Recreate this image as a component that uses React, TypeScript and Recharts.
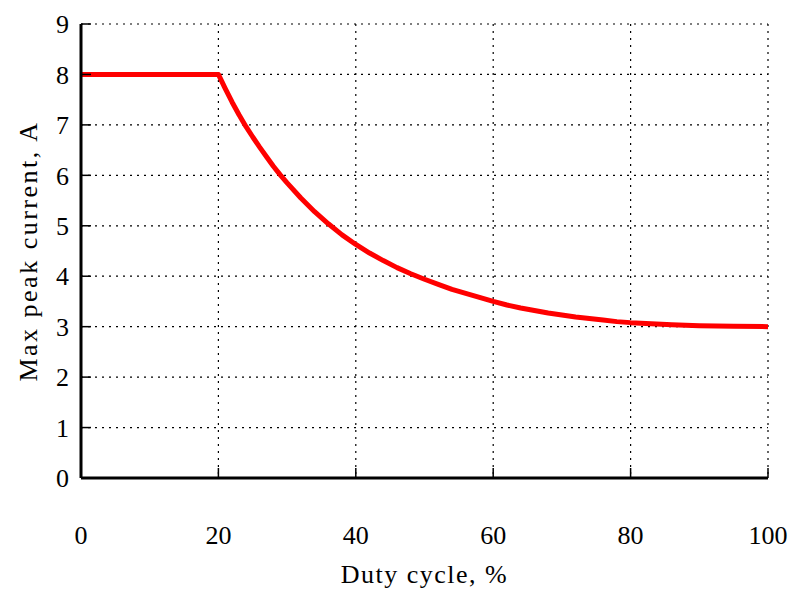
import { CartesianGrid, Label, Line, LineChart, XAxis, YAxis } from 'recharts'

// duty cycle (%) vs max peak current (A)
const dutyCycle = [
  0, 20, 21, 22, 23, 24, 25, 26, 27, 28, 29, 30, 32, 34, 36, 38, 40, 42, 44, 46, 48, 50,
  52, 54, 56, 58, 60, 62, 64, 66, 68, 70, 72, 74, 76, 78, 80, 83, 86, 90, 95, 100,
]
const peakCurrent = [
  8, 8, 7.72, 7.45, 7.2, 6.97, 6.76, 6.56, 6.37, 6.18, 6.01, 5.85, 5.55, 5.28, 5.04, 4.82, 4.63, 4.46, 4.31, 4.17, 4.05, 3.94,
  3.84, 3.74, 3.66, 3.58, 3.5, 3.43, 3.37, 3.32, 3.27, 3.23, 3.19, 3.16, 3.13, 3.1, 3.08, 3.06, 3.04, 3.02, 3.01, 3.0,
]

const xTicks = [0, 20, 40, 60, 80, 100]
const yTicks = [0, 1, 2, 3, 4, 5, 6, 7, 8, 9]

const data = dutyCycle.map((d, i) => ({ duty: d, current: peakCurrent[i] }))

const FONT = '"Liberation Serif", serif'
const tickStyle = { fontSize: 26, fill: '#000', fontFamily: FONT }
const axisLine = { stroke: '#000', strokeWidth: 3 }
const tickLine = { stroke: '#000', strokeWidth: 1.5 }

export default function App() {
  return (
    <div style={{ position: 'absolute', left: 0, top: 0, background: '#fff' }}>
      <LineChart
        width={792}
        height={589}
        data={data}
        margin={{ top: 24, right: 24, bottom: 31, left: 21 }}
      >
        <CartesianGrid
          stroke="#000"
          strokeDasharray="2 5"
          strokeWidth={1.2}
          verticalValues={xTicks}
          horizontalValues={yTicks}
        />
        <XAxis
          dataKey="duty"
          type="number"
          domain={[0, 100]}
          ticks={xTicks}
          height={80}
          tickSize={-10}
          tickMargin={58}
          tick={tickStyle}
          axisLine={axisLine}
          tickLine={tickLine}
        >
          <Label
            value="Duty cycle, %"
            position="bottom"
            offset={7}
            style={{ fontSize: 26, fill: '#000', fontFamily: FONT, letterSpacing: 1.5 }}
          />
        </XAxis>
        <XAxis
          xAxisId="top"
          orientation="top"
          type="number"
          domain={[0, 100]}
          ticks={xTicks}
          height={0}
          tickSize={-10}
          tick={false}
          axisLine={axisLine}
          tickLine={tickLine}
        />
        <YAxis
          type="number"
          domain={[0, 9]}
          ticks={yTicks}
          width={60}
          tickSize={-10}
          tickMargin={22}
          tick={tickStyle}
          axisLine={axisLine}
          tickLine={tickLine}
        >
          <Label
            value="Max peak current, A"
            angle={-90}
            position="insideLeft"
            offset={7}
            style={{
              fontSize: 26,
              fill: '#000',
              fontFamily: FONT,
              textAnchor: 'middle',
              letterSpacing: 2.5,
            }}
          />
        </YAxis>
        <YAxis
          yAxisId="right"
          orientation="right"
          type="number"
          domain={[0, 9]}
          ticks={yTicks}
          width={0}
          tickSize={-10}
          tick={false}
          axisLine={axisLine}
          tickLine={tickLine}
        />
        <Line
          type="linear"
          dataKey="current"
          stroke="#ff0000"
          strokeWidth={5}
          strokeLinejoin="round"
          dot={false}
          activeDot={false}
          isAnimationActive={false}
        />
      </LineChart>
    </div>
  )
}
